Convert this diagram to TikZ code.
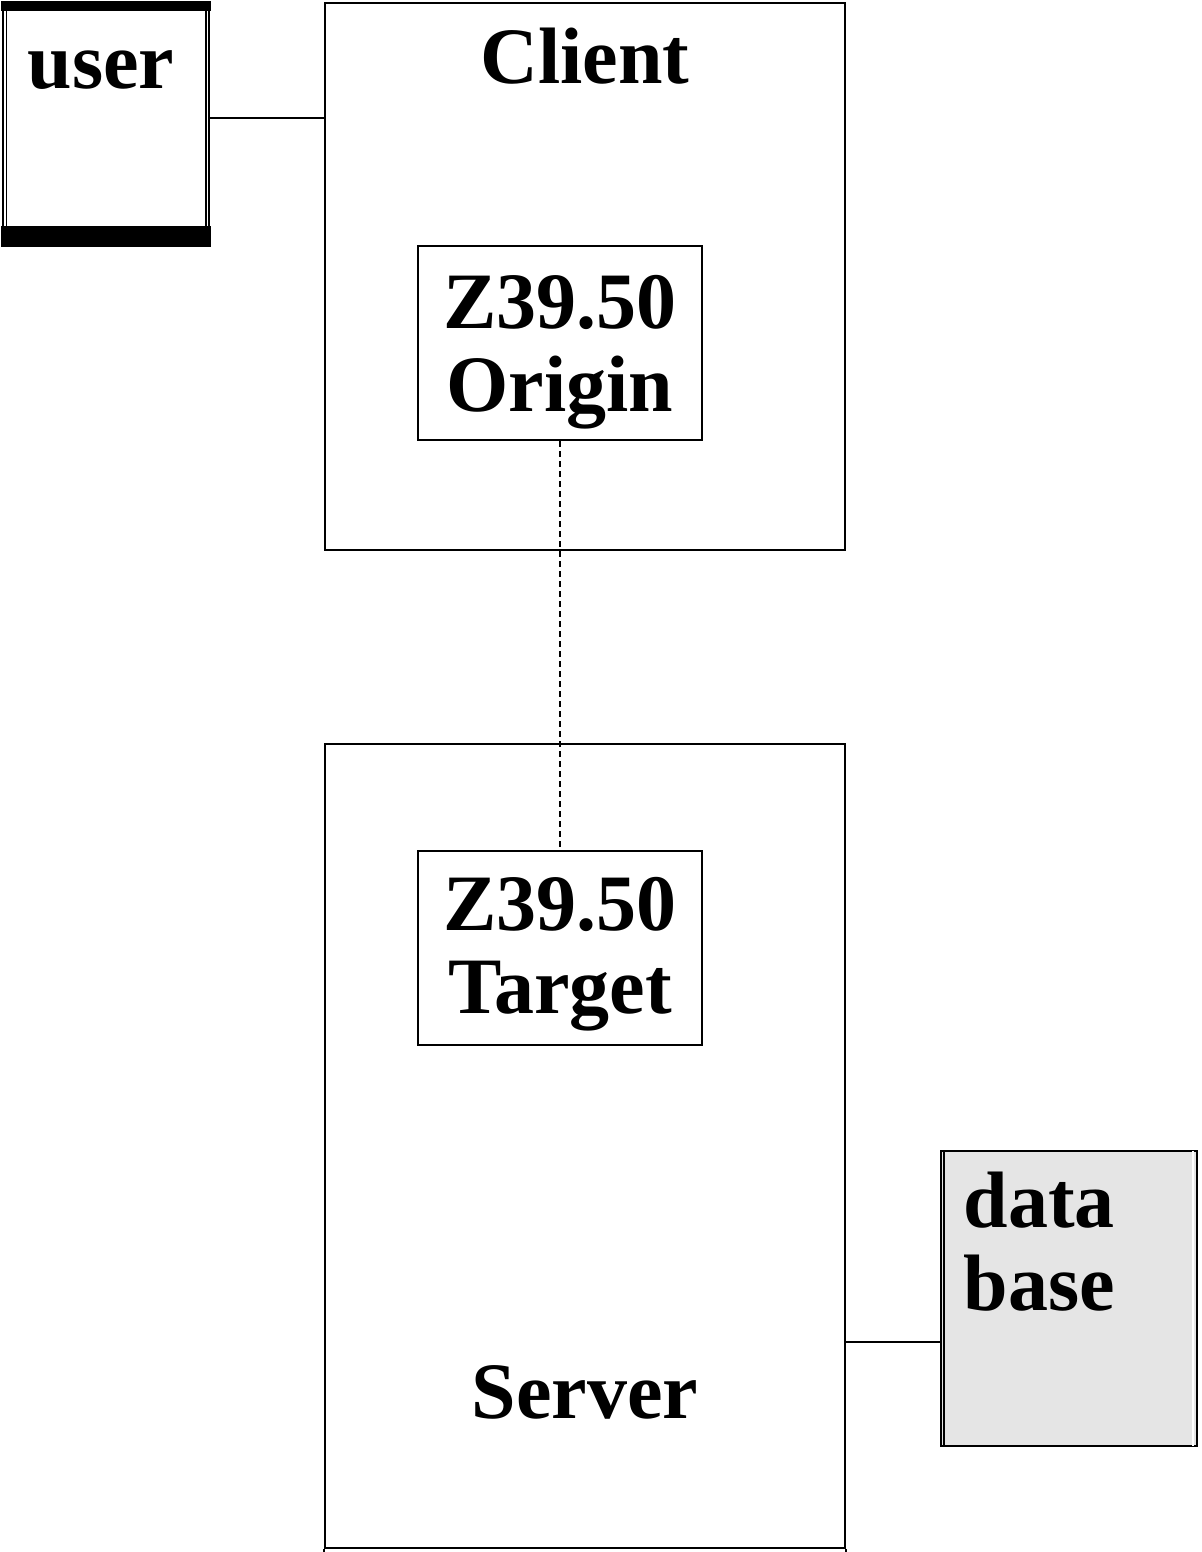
\documentclass[tikz,border=0pt]{standalone}
\usepackage{fontspec}
\setmainfont{Liberation Serif}
\usetikzlibrary{positioning}

\definecolor{dbgray}{HTML}{E5E5E5}

\tikzset{
  box/.style={draw, line width=0.5pt, inner sep=0pt},
  proto/.style={box, minimum width=71pt, minimum height=48.5pt},
  label/.style={inner sep=0pt, align=center, font=\bfseries\fontsize{20}{20.75}\selectfont},
  link/.style={line width=0.5pt},
}

\begin{document}
\begin{tikzpicture}[x=0.25pt, y=-0.25pt]
  \useasboundingbox (0,0) rectangle (1201,1552);

  % the person
  \node[box, double, line width=0.45pt, double distance=0.45pt,
    minimum width=50.7pt, minimum height=59.7pt] (user) at (106,124) {};
  \fill ([shift={(-2.6,-2.6)}]user.north west) rectangle ([shift={(2.6,7.4)}]user.north east);
  \fill ([shift={(-2.6,-18.4)}]user.south west) rectangle ([shift={(2.6,2.6)}]user.south east);
  \node[label, anchor=base west] (usertxt) at (27,88) {user};

  % client side
  \node[box, minimum width=130pt, minimum height=136.75pt] (client) at (585,276.5) {};
  \node[label, anchor=base] (clienttxt) at (585,83) {Client};
  \node[proto] (origin) at (560,343) {};
  \node[label, anchor=base] (origintxt) at (560,411) {Z39.50\\Origin};

  % server side
  \node[box, minimum width=130pt, minimum height=201pt] (server) at (585,1146) {};
  \draw[link] (server.south west) -- ++(0,4);
  \draw[link] (server.south east) -- ++(0,4);
  \node[label, anchor=base] (servertxt) at (585,1418) {Server};
  \node[proto] (target) at (560,948) {};
  \node[label, anchor=base] (targettxt) at (560,1013) {Z39.50\\Target};

  % the data store
  \node[box, fill=dbgray, minimum width=64pt, minimum height=73.75pt] (db) at (1069,1298.5) {};
  \draw[link] ([xshift=1pt]db.north west) -- ([xshift=1pt]db.south west);
  \draw[white, line width=0.5pt] ([xshift=-1.25pt, yshift=-0.25pt]db.north east) -- ([xshift=-1.25pt, yshift=0.25pt]db.south east);
  \node[label, anchor=base west, align=left] (dbtxt) at (963,1310) {data\\base};

  % connections
  \draw[link] (user.east |- 0,118) -- (client.west |- 0,118);
  \draw[link, dash pattern=on 1.5pt off 1pt] (origin.south) -- (target.north);
  \draw[link] (server.east |- 0,1342) -- (db.west |- 0,1342);
\end{tikzpicture}
\end{document}
